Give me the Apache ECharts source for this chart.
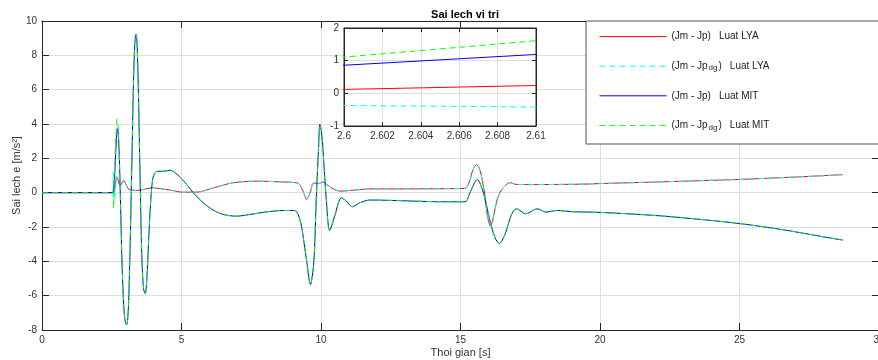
<!DOCTYPE html>
<html>
<head>
<meta charset="utf-8">
<script src="https://cdn.jsdelivr.net/npm/echarts@6/dist/echarts.min.js"></script>
<style>html,body{margin:0;padding:0;background:#fff}#c{width:878px;height:360px}</style>
</head>
<body>
<div id="c"></div>
<script>
// ---- data (time [s], error) ----
const lyaErr = [[0,0],[2.56,0],[2.58,0.02],[2.6,0.12],[2.61,0.24],[2.64,0.6],[2.68,0.93],[2.72,0.78],[2.77,0.47],[2.82,0.42],[2.88,0.62],[2.94,0.71],[3.0,0.52],[3.09,0.23],[3.2,0.16],[3.4,0.13],[3.6,0.17],[3.8,0.25],[3.95,0.29],[4.16,0.25],[4.6,0.15],[5.03,0.03],[5.55,0.03],[6.14,0.28],[6.86,0.58],[7.69,0.67],[8.53,0.63],[9.12,0.58],[9.22,0.5],[9.3,0.29],[9.4,-0.1],[9.48,-0.39],[9.55,-0.25],[9.62,0.05],[9.72,0.55],[9.8,0.56],[9.9,0.53],[10.07,0.62],[10.25,0.42],[10.43,0.23],[10.67,0.09],[11.15,0.14],[11.75,0.22],[13,0.22],[14.3,0.23],[15.16,0.25],[15.3,0.55],[15.45,1.35],[15.58,1.64],[15.7,1.3],[15.85,0.1],[15.97,-1.4],[16.08,-1.95],[16.18,-1.4],[16.3,-0.5],[16.42,0.03],[16.6,0.4],[16.77,0.58],[17.0,0.48],[17.5,0.47],[18.5,0.48],[19.5,0.5],[20,0.53],[22,0.62],[24,0.72],[25,0.77],[26,0.84],[27,0.91],[28,0.99],[28.7,1.05]];
const lyaDgStart = [[0,0],[2.53,0],[2.555,1.2],[2.575,0.2],[2.59,-0.3],[2.6,-0.37],[2.61,-0.42],[2.635,0.2],[2.66,0.8],[2.68,0.93]];
const mitErr = [[0,0],[2.55,0],[2.575,0.3],[2.6,0.86],[2.61,1.19],[2.65,2.6],[2.69,3.6],[2.71,3.73],[2.74,3.3],[2.78,1.6],[2.82,-1.0],[2.87,-4.2],[2.93,-6.6],[2.98,-7.5],[3.03,-7.69],[3.08,-7.2],[3.13,-5.0],[3.18,-1.5],[3.23,2.5],[3.28,6.5],[3.33,8.8],[3.37,9.22],[3.41,8.6],[3.46,5.5],[3.52,0.5],[3.58,-3.8],[3.64,-5.6],[3.70,-5.88],[3.76,-5.0],[3.83,-2.5],[3.90,-0.4],[3.97,0.8],[4.05,1.15],[4.16,1.25],[4.4,1.25],[4.58,1.31],[4.77,1.16],[5.03,0.77],[5.42,0],[5.78,-0.59],[6.14,-1.02],[6.5,-1.27],[6.97,-1.37],[7.45,-1.27],[8.05,-1.12],[8.64,-1.04],[9.06,-1.04],[9.18,-1.27],[9.3,-1.95],[9.4,-3.0],[9.48,-3.9],[9.62,-5.35],[9.74,-4.09],[9.83,-0.4],[9.91,2.52],[9.96,3.98],[10.01,3.6],[10.07,2.52],[10.19,-0.4],[10.31,-2.2],[10.49,-1.37],[10.73,-0.3],[10.91,-0.49],[11.12,-0.82],[11.39,-0.59],[11.75,-0.43],[12.5,-0.45],[13.5,-0.5],[14.3,-0.53],[15.16,-0.53],[15.34,0],[15.6,0.77],[15.82,0],[16.06,-1.66],[16.24,-2.63],[16.39,-2.96],[16.59,-2.44],[16.83,-1.27],[17.01,-0.94],[17.34,-1.23],[17.75,-0.94],[18.06,-1.13],[18.45,-1.04],[19.03,-1.11],[20,-1.15],[22,-1.33],[24,-1.62],[25,-1.8],[26,-2.02],[27,-2.28],[28,-2.57],[28.7,-2.76]];
const mitDgStart = [[0,0],[2.54,0],[2.565,-0.9],[2.585,0.3],[2.6,1.11],[2.61,1.61],[2.65,3.3],[2.69,4.27],[2.72,4.0],[2.75,3.0]];

const seriesNames = ['(Jm - Jp)   Luat LYA','(Jm - Jpdg)   Luat LYA','(Jm - Jp)   Luat MIT','(Jm - Jpdg)   Luat MIT'];
const legendLabels = ['{a|(Jm - Jp)}{g|}{a|Luat LYA}','{a|(Jm - Jp}{s|dg}{a|)}{g|}{a|Luat LYA}','{a|(Jm - Jp)}{g|}{a|Luat MIT}','{a|(Jm - Jp}{s|dg}{a|)}{g|}{a|Luat MIT}'];
const xTicksMain = {min:0, max:30, interval:5};
const yTicksMain = {min:-8, max:10, interval:2};
const xTicksInset = {min:2.6, max:2.61, interval:0.002};
const yTicksInset = {min:-1, max:2, interval:1};

const lyaDg = lyaDgStart.concat(lyaErr.filter(p => p[0] >= 2.72));
const mitDg = mitDgStart.concat(mitErr.filter(p => p[0] >= 2.78));
const allData = [lyaErr, lyaDg, mitErr, mitDg];
const colors = ['#ff0000','#00ffff','#0000ff','#00ff00'];
const dashes = ['solid',[6,4],'solid',[6,4]];

const FONT = 'Liberation Sans, Arial, Helvetica, sans-serif';
const axisCol = '#262626';
const gridCol = '#dedede';

function mkX(idx, pos, t, showLabel, z, tickLen, fmt){
  return {type:'value', gridIndex: idx, position: pos, min:t.min, max:t.max, interval:t.interval,
    axisLine:{show:true, onZero:false, lineStyle:{color:axisCol, width:1}},
    axisTick:{show:true, inside:true, length:tickLen, lineStyle:{color:axisCol}},
    axisLabel:{show:showLabel, color:'#333', fontSize:10, fontFamily:FONT, margin:5, formatter: fmt},
    splitLine:{show:showLabel, lineStyle:{color:gridCol, width:1}}, z:z};
}
function mkY(idx, pos, t, showLabel, z, tickLen){
  return {type:'value', gridIndex: idx, position: pos, min:t.min, max:t.max, interval:t.interval,
    axisLine:{show:true, onZero:false, lineStyle:{color:axisCol, width:1}},
    axisTick:{show:true, inside:true, length:tickLen, lineStyle:{color:axisCol}},
    axisLabel:{show:showLabel, color:'#333', fontSize:10, fontFamily:FONT, margin:5},
    splitLine:{show:showLabel, lineStyle:{color:gridCol, width:1}}, z:z};
}

const xAxes = [
  Object.assign(mkX(0,'bottom',xTicksMain,true,0,7), {name:'Thoi gian [s]', nameLocation:'middle', nameGap:17, nameMoveOverlap:false, nameTextStyle:{fontSize:11, color:'#333', fontFamily:FONT}}),
  mkX(0,'top',xTicksMain,false,0,7),
  mkX(1,'bottom',xTicksInset,true,4,4, v => (+v.toFixed(3)).toString()),
  mkX(1,'top',xTicksInset,false,4,4)
];
const yAxes = [
  Object.assign(mkY(0,'left',yTicksMain,true,0,7), {name:'Sai lech e [m/s²]', nameLocation:'middle', nameGap:20, nameMoveOverlap:false, nameTextStyle:{fontSize:11, color:'#333', fontFamily:FONT}}),
  mkY(0,'right',yTicksMain,false,0,7),
  mkY(1,'left',yTicksInset,true,4,4),
  mkY(1,'right',yTicksInset,false,4,4)
];

const series = [];
allData.forEach((d, i) => {
  series.push({name: seriesNames[i], type:'line', xAxisIndex:0, yAxisIndex:0, data:d, showSymbol:false, symbol:'none',
    smooth:0.3, clip:true, z:2+i, lineStyle:{color:colors[i], width:1, type:dashes[i]}, itemStyle:{color:colors[i]}});
});
allData.forEach((d, i) => {
  series.push({name: seriesNames[i], type:'line', xAxisIndex:2, yAxisIndex:2, data:d, showSymbol:false, symbol:'none',
    smooth:false, clip:true, z:6+i, lineStyle:{color:colors[i], width:1, type:dashes[i]}, itemStyle:{color:colors[i]}});
});

const chart = echarts.init(document.getElementById('c'), null, {renderer:'canvas'});
chart.setOption({
  animation:false,
  backgroundColor:'#fff',
  title:{text:'Sai lech vi tri', left:460, top:4, textAlign:'center', textStyle:{fontSize:11, fontWeight:'bold', color:'#000', fontFamily:FONT}},
  grid:[
    {left:42, top:21, width:837, height:309, show:false, containLabel:false, outerBoundsMode:'none'},
    {left:344, top:28, width:192, height:98, show:true, backgroundColor:'#fff', borderColor:axisCol, borderWidth:1, z:3, containLabel:false, outerBoundsMode:'none'}
  ],
  xAxis: xAxes,
  yAxis: yAxes,
  graphic:[{type:'rect', shape:{x:586, y:21, width:300, height:123}, style:{fill:'#fff', stroke:'#555', lineWidth:1}, z:10}],
  legend:{
    data: seriesNames, orient:'vertical', left:599, top:31, padding:0, itemWidth:67, itemHeight:14, itemGap:18, z:11,
    itemStyle:{opacity:0, color:'rgba(0,0,0,0)', borderWidth:0},
    lineStyle:{width:1},
    formatter: name => legendLabels[seriesNames.indexOf(name)],
    textStyle:{fontSize:10, color:'#222', fontFamily:FONT,
      rich:{a:{fontSize:10, lineHeight:14, color:'#222', fontFamily:FONT}, s:{fontSize:8, lineHeight:10, color:'#222', fontFamily:FONT, padding:[4,1,0,1]}, g:{width:8}}}
  },
  series: series
});
</script>
</body>
</html>
